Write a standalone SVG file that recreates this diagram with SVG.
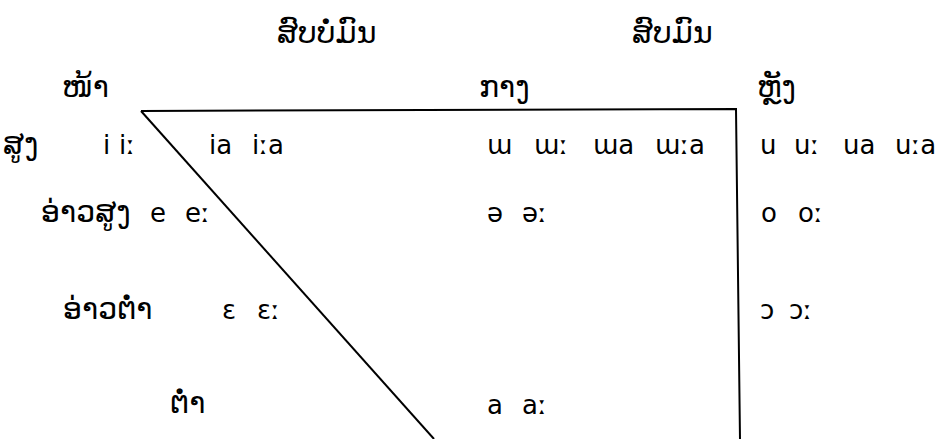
<svg xmlns="http://www.w3.org/2000/svg" width="952" height="439" viewBox="0 0 952 439">
<style>
text{font-family:"DejaVu Sans","Noto Sans",sans-serif;font-size:26px;fill:#000}
text.lo{font-size:30px}
.ln{stroke:#000;stroke-width:2;fill:none}
</style>
<rect width="952" height="439" fill="#fff"/>
<g id="connectors">
<path class="ln" d="M141,111 L736,109 L740,439"/>
<path class="ln" d="M141,111 L434,439"/>
</g>
<g id="headers">
<text class="lo" x="277" y="43">ສົບບໍ່ມົນ</text>
<text class="lo" x="632" y="43">ສົບມົນ</text>
<text class="lo" x="62" y="97">ໜ້າ</text>
<text class="lo" x="479" y="97">ກາງ</text>
<text class="lo" x="757" y="97">ຫຼັງ</text>
</g>
<g id="row-high">
<text class="lo" x="3" y="154">ສູງ</text>
<text y="154"><tspan x="103">i</tspan><tspan x="119">iː</tspan></text>
<text y="154"><tspan x="209">ia</tspan><tspan x="252">iːa</tspan></text>
<text y="154"><tspan x="487">ɯ</tspan><tspan x="534">ɯː</tspan><tspan x="593">ɯa</tspan><tspan x="655">ɯːa</tspan></text>
<text y="154"><tspan x="760">u</tspan><tspan x="794">uː</tspan><tspan x="843">ua</tspan><tspan x="895">uːa</tspan></text>
</g>
<g id="row-mid-high">
<text class="lo" x="41" y="222">ອ່າວສູງ</text>
<text y="222"><tspan x="150">e</tspan><tspan x="185">eː</tspan></text>
<text y="222"><tspan x="487">ə</tspan><tspan x="522">əː</tspan></text>
<text y="222"><tspan x="761">o</tspan><tspan x="798">oː</tspan></text>
</g>
<g id="row-mid-low">
<text class="lo" x="63" y="319">ອ່າວຕ່ຳ</text>
<text y="319"><tspan x="222">ɛ</tspan><tspan x="257">ɛː</tspan></text>
<text y="319"><tspan x="760">ɔ</tspan><tspan x="789">ɔː</tspan></text>
</g>
<g id="row-low">
<text class="lo" x="170" y="413">ຕ່ຳ</text>
<text y="414"><tspan x="487">a</tspan><tspan x="522">aː</tspan></text>
</g>
</svg>
